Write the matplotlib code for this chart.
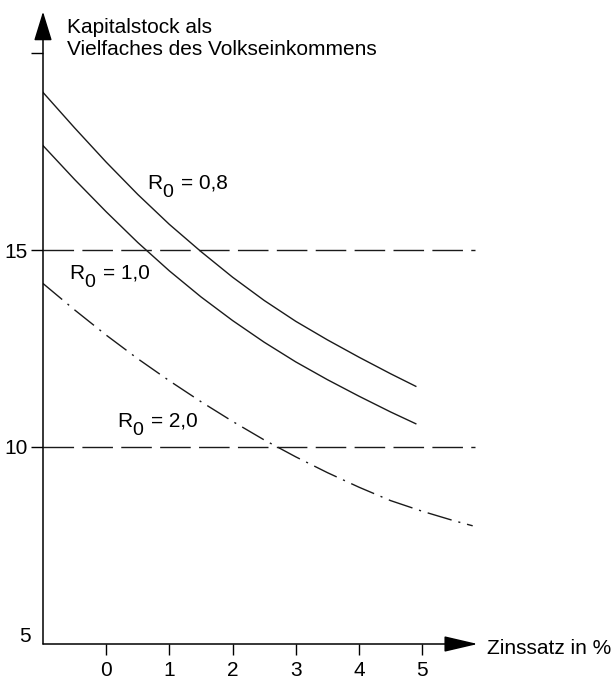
import matplotlib
matplotlib.use("Agg")
import matplotlib.pyplot as plt

plt.rcParams['font.family'] = ['Liberation Sans', 'DejaVu Sans']

# Kapitalstock als Vielfaches des Volkseinkommens vs. Zinssatz
zins = [-1, -0.5, 0, 0.5, 1, 1.5, 2, 2.5, 3, 3.5, 4, 4.5, 4.9]
k_r08 = [19.0, 18.10, 17.23, 16.41, 15.65, 14.96, 14.31, 13.72, 13.19, 12.72, 12.28, 11.86, 11.54]
k_r10 = [17.65, 16.79, 15.97, 15.19, 14.47, 13.81, 13.21, 12.66, 12.16, 11.71, 11.29, 10.89, 10.59]

zins_r20 = [-1, -0.5, 0, 0.5, 1, 1.5, 2, 2.5, 3, 3.5, 4, 4.5, 5, 5.5, 5.8]
k_r20 = [14.15, 13.48, 12.84, 12.24, 11.68, 11.15, 10.65, 10.18, 9.75, 9.35, 8.98, 8.64, 8.37, 8.13, 8.0]

ref_levels = [15, 10]
xticks = [0, 1, 2, 3, 4, 5]
yticks = [20, 15, 10]
ytick_labels = ['', '15', '10']

fig = plt.figure(figsize=(6.14, 6.80), dpi=100)
ax = fig.add_axes([43 / 614, 36 / 680, 436 / 614, 630.4 / 680])
ax.set_xlim(-1, 5.9)
ax.set_ylim(5, 21)

lc = '#1a1a1a'
ax.plot(zins, k_r08, color=lc, lw=1.0)
ax.plot(zins, k_r10, color=lc, lw=1.0)
ax.plot(zins_r20, k_r20, color=lc, lw=1.0, dashes=(18, 5, 1.5, 5))
for lev in ref_levels:
    ax.plot([-1, 5.84], [lev, lev], color=lc, lw=1.0, dashes=(22, 6))

# axes with arrows
for s in ax.spines.values():
    s.set_visible(False)
ax.annotate('', xy=(-1, 21.05), xytext=(-1, 5), xycoords='data',
            arrowprops=dict(arrowstyle='-|>,head_length=1.3,head_width=0.4',
                            lw=1.1, color='k', mutation_scale=14, shrinkA=0, shrinkB=0),
            annotation_clip=False)
ax.annotate('', xy=(5.88, 5), xytext=(-1, 5), xycoords='data',
            arrowprops=dict(arrowstyle='-|>,head_length=1.5,head_width=0.35',
                            lw=1.1, color='k', mutation_scale=14, shrinkA=0, shrinkB=0),
            annotation_clip=False)

fs = 15
ax.set_xticks(xticks)
ax.set_xticklabels([str(t) for t in xticks])
ax.set_yticks(yticks)
ax.set_yticklabels(ytick_labels)
ax.tick_params(axis='x', direction='out', length=8, width=1.0, pad=4, labelsize=fs)
ax.tick_params(axis='y', direction='out', length=9, width=1.0, pad=2, labelsize=fs)
ax.text(-1.2, 5.2, '5', fontsize=fs, ha='right', va='center')


def r_label(x, y, wert):
    # "R" mit grossem Index 0, dann "= wert"
    kw = dict(xycoords='data', textcoords='offset points', va='baseline', fontsize=fs)
    ax.annotate('R', xy=(x, y), xytext=(0, 0), **kw)
    ax.annotate('0', xy=(x, y), xytext=(10.8, -6), **{**kw, 'fontsize': 14})
    ax.annotate('= ' + wert, xy=(x, y), xytext=(24.5, 0), **kw)


r_label(0.65, 16.55, '0,8')
r_label(-0.585, 14.27, '1,0')
r_label(0.17, 10.51, '2,0')

fig.text(67 / 614, 1 - 33 / 680, 'Kapitalstock als', fontsize=fs, va='baseline')
fig.text(67 / 614, 1 - 55 / 680, 'Vielfaches des Volkseinkommens', fontsize=fs, va='baseline')
fig.text(487 / 614, 1 - 654 / 680, 'Zinssatz in %', fontsize=fs, va='baseline')

fig.savefig('out.png', dpi=100, facecolor='white')
